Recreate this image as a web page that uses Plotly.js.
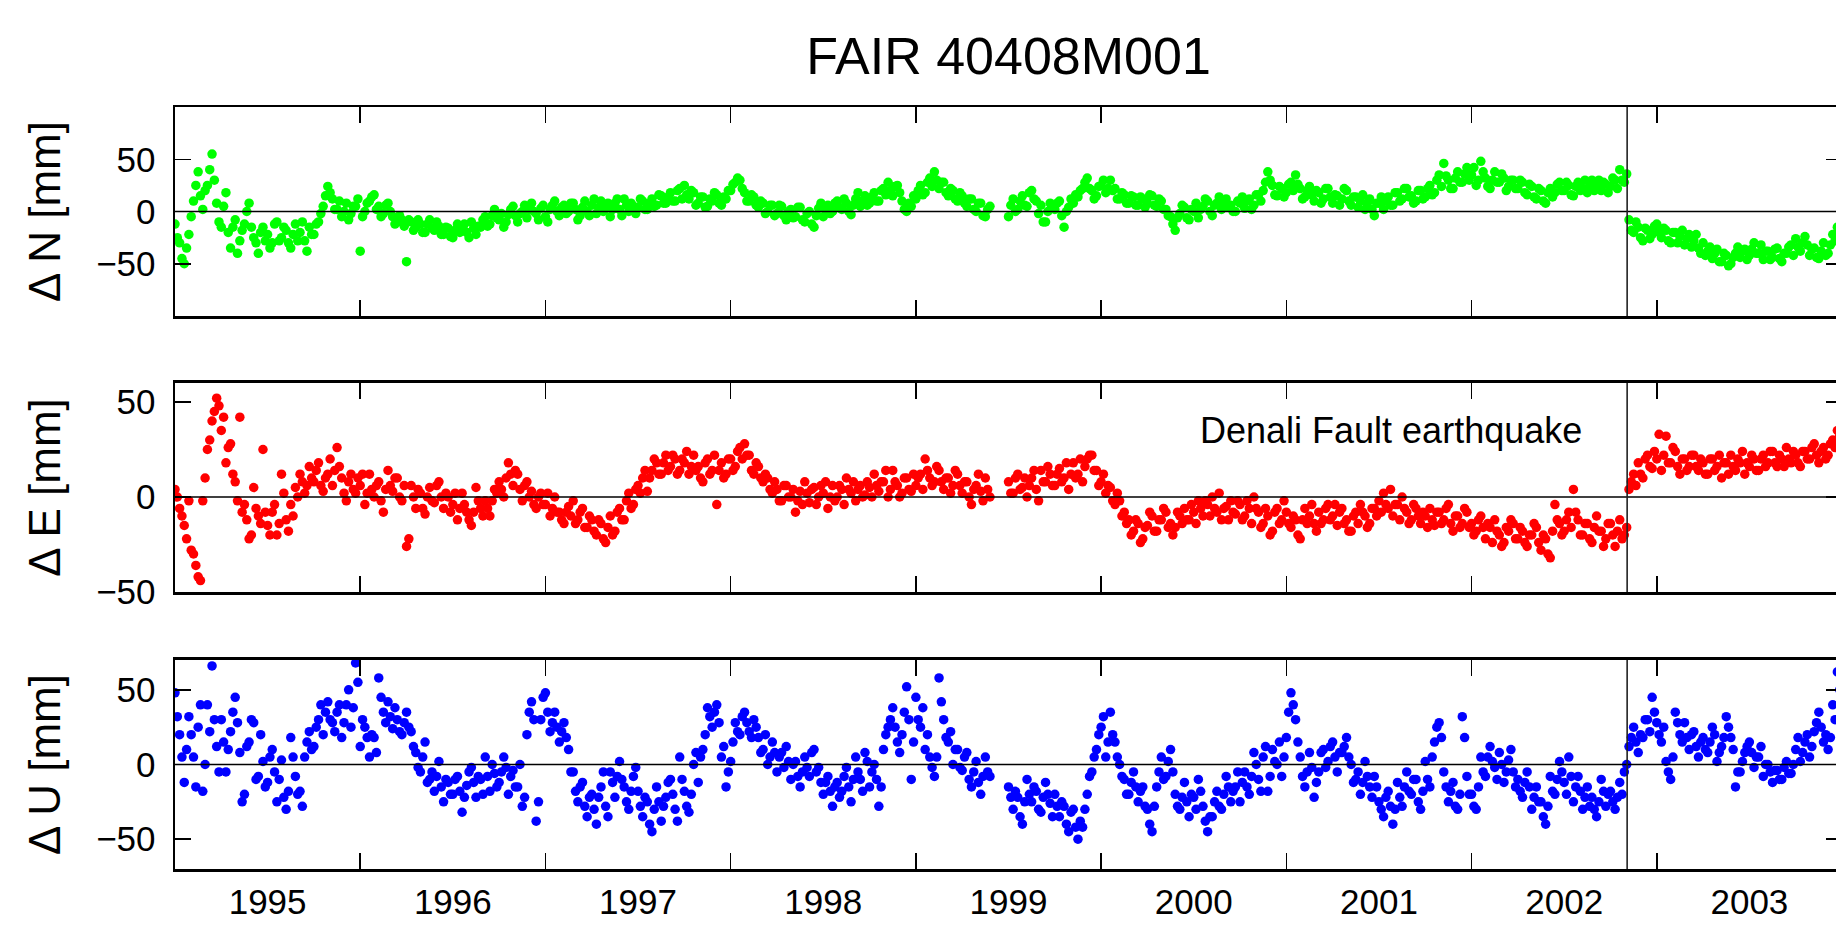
<!DOCTYPE html>
<html>
<head>
<meta charset="utf-8">
<script src="https://cdn.plot.ly/plotly-3.0.1.min.js"></script>
<style>
html, body { margin: 0; padding: 0; overflow: hidden; background: #fff; }
#chart { width: 1900px; height: 927px; }
</style>
</head>
<body>
<div id="chart"></div>
<script>
// Sampling grid of the series (decimal years)
const startYear = 1995.0;
const stepYear = 0.0125;

// Station and event
const stationTitle = 'FAIR 40408M001';
const eventYear = 2002.84;
const eventLabel = 'Denali Fault earthquake';

// Year labels (placed mid-year); ticks sit on year boundaries
const yearLabels = ['1995','1996','1997','1998','1999','2000','2001','2002','2003'];

// North component [mm]
const N_mm = [
 -12,-25,-30,-45,-50,-35,-22,-5,10,25,38,15,2,20,25,40,55,30,8,-10,
 -15,5,18,-20,-35,-15,-8,-40,-28,-18,-12,0,8,-15,-25,-30,-40,-20,-15,-28,
 -22,-35,-30,-12,-10,-28,-25,-15,-18,-30,-35,-22,-12,-28,-20,-10,-28,-38,-15,-22,
 -22,-12,-10,-2,5,15,24,18,12,2,2,10,-5,0,8,-8,-2,5,5,12,
 -38,-5,0,8,10,14,16,2,5,-5,-2,6,8,0,-5,-12,-10,-4,-8,-14,
 -48,-8,-10,-18,-15,-8,-12,-20,-20,-12,-8,-16,-18,-10,-14,-22,-22,-15,-16,-24,
 -25,-18,-12,-20,-18,-12,-20,-25,-10,-16,-22,-14,-15,-8,-5,-14,-12,-4,2,-6,
 -8,-2,-15,-10,-3,2,5,-4,-10,-2,0,6,-6,2,8,0,-2,-8,3,6,
 -5,-10,2,6,10,0,-4,4,6,-2,0,8,8,2,-8,-4,4,10,0,-4,
 6,12,-2,4,10,0,3,8,-5,2,8,12,2,-4,12,6,0,8,5,-2,
 4,12,10,2,2,8,12,5,6,16,15,8,8,14,18,10,10,20,22,12,
 25,16,12,20,18,6,8,14,14,4,5,12,10,18,16,8,6,14,12,20,
 20,26,28,32,30,22,18,10,10,16,14,6,4,10,8,-2,0,6,6,-4,
 -2,6,5,-4,-8,0,2,-6,-5,4,4,-8,-10,-2,0,-12,-15,-4,3,8,
 -5,2,6,-2,0,8,10,4,2,12,8,0,-3,6,12,18,5,10,15,6,
 8,14,18,10,10,20,22,16,28,20,15,24,25,18,10,2,0,8,5,15,
 12,20,25,16,18,28,32,24,38,30,22,28,28,18,15,22,20,12,10,18,
 15,8,5,12,12,2,0,8,8,-4,-5,2,5,null,null,null,null,null,null,null,
 -5,6,12,0,2,10,15,6,5,18,20,12,10,-2,6,-10,-10,0,8,4,
 2,8,10,-4,-15,0,4,12,8,16,14,20,22,28,32,22,20,12,15,24,
 25,30,18,22,30,20,22,12,12,18,16,8,8,15,14,6,6,14,12,4,
 8,16,15,6,5,12,10,2,2,-4,-5,-12,-18,-6,-2,6,4,-6,-8,2,
 0,8,-6,2,5,12,10,0,-4,6,8,14,2,8,12,4,6,0,0,10,
 8,14,3,10,12,2,6,16,16,10,20,28,38,30,25,16,15,24,22,14,
 18,26,28,20,35,26,22,12,14,20,24,16,10,20,18,8,12,22,22,14,
 8,16,15,6,12,22,20,10,6,14,14,4,10,16,2,8,12,2,-4,8,
 8,14,2,10,14,6,6,18,18,10,12,22,22,14,15,8,10,20,20,12,
 14,22,25,16,18,30,35,24,46,34,30,22,22,32,38,28,28,36,42,30,
 35,42,25,30,48,38,32,24,22,30,38,28,28,36,32,20,24,30,30,22,
 22,30,28,18,16,26,24,14,12,22,20,10,8,18,22,14,18,26,28,20,
 20,28,25,16,15,24,28,20,22,30,18,24,30,20,24,30,20,28,26,18,
 24,32,30,22,40,30,28,36,-8,-18,-20,-10,-15,-25,-28,-16,-18,-26,-22,-14,
 -12,-20,-25,-16,-18,-28,-30,-20,-20,-30,-24,-18,-32,-26,-22,-34,-28,-22,-35,-40,
 -30,-42,-38,-34,-45,-40,-36,-48,-48,-40,-42,-52,-50,-44,-40,-34,-44,-38,-36,-46,
 -42,-36,-30,-40,-40,-32,-46,-38,-38,-46,-44,-36,-35,-45,-48,-40,-40,-34,-32,-42,
 -26,-34,-38,-30,-24,-32,-42,-36,-35,-44,-45,-38,-30,-42,-40,-32,-22,-28,-15,-20
];

// East component [mm]
const E_mm = [
 4,0,-6,-10,-15,-22,-2,-28,-30,-36,-42,-44,-2,10,25,30,40,45,52,48,
 35,42,18,26,28,12,8,-2,42,-8,-4,-12,-22,-20,5,-6,-10,-14,25,-8,
 -15,-20,-8,-4,-20,-14,12,2,-12,-18,-4,-10,5,0,12,8,2,6,16,10,
 8,14,18,6,3,10,12,20,6,14,26,16,10,2,-2,8,12,4,2,10,
 6,12,-4,2,12,4,0,6,8,-2,-8,4,14,6,3,10,10,0,-2,6,
 -26,-22,6,0,-6,4,2,-6,-9,0,5,-2,-3,6,8,0,-6,2,0,-8,
 -4,2,-12,-6,2,-4,-8,-12,-15,-8,5,-2,-6,-10,-2,-6,-10,-2,4,2,
 8,4,0,10,18,12,6,14,12,4,-2,6,8,0,3,-4,-6,0,2,-4,
 -4,2,-10,-6,0,-8,-8,-12,-14,-8,-5,-10,-2,-14,-12,-8,-6,-16,-16,-10,
 -12,-18,-20,-12,-14,-22,-24,-16,-10,-20,-18,-8,-6,-12,-12,-2,2,-6,-4,4,
 6,2,10,14,3,10,14,20,18,12,12,18,22,14,16,22,20,12,14,20,
 18,24,12,16,22,14,16,10,8,18,20,12,14,22,-4,14,18,10,12,20,
 20,14,16,24,26,20,28,22,22,14,12,18,16,10,8,12,10,4,2,8,
 4,-2,-2,6,6,0,0,4,-8,-2,3,-4,8,2,-3,4,5,-4,0,6,
 2,8,-6,0,6,-2,0,6,4,-4,10,4,2,8,-2,4,6,0,1,8,
 5,0,12,6,3,8,8,14,0,4,14,8,6,0,2,10,10,4,3,12,
 6,10,12,4,20,14,10,6,8,16,14,8,4,10,10,2,6,14,12,6,
 2,8,8,0,-4,4,6,12,3,-2,10,4,0,null,null,null,null,null,null,null,
 8,2,2,10,12,4,5,10,0,6,10,14,4,-2,14,8,8,16,12,6,
 6,12,15,8,10,18,4,12,18,10,12,20,8,16,20,22,22,14,14,6,
 8,12,2,6,5,-2,-4,2,-2,-10,-8,-14,-12,-20,-18,-12,-14,-24,-22,-16,
 -15,-8,-10,-18,-18,-12,-12,-6,-8,-16,-14,-20,-16,-8,-10,-14,-6,-12,-12,-4,
 -8,-14,-2,-6,-10,-2,-4,-10,0,-6,-8,2,-12,-6,-5,-12,-2,-8,-9,-2,
 -4,-12,-10,-2,-6,-14,0,-6,-8,-16,-14,-6,-10,-20,-18,-8,-6,-14,-12,-2,
 -8,-14,-16,-10,-12,-20,-22,-12,-6,-14,-10,-4,-14,-18,-8,-14,-12,-6,-4,-12,
 -10,-4,-15,-8,-6,-14,-12,-18,-18,-10,-8,-14,-4,-8,-10,-16,-14,-6,-6,-10,
 -2,-8,2,-4,-6,4,-10,-4,-4,-12,0,-6,-8,-14,-12,-4,-6,-10,-14,-8,
 -10,-16,-6,-12,-15,-8,-8,-14,-12,-6,-4,-14,-18,-10,-10,-16,-14,-6,-8,-16,
 -14,-20,-18,-12,-10,-16,-22,-14,-16,-24,-12,-18,-20,-26,-24,-16,-18,-12,-14,-22,
 -22,-16,-18,-24,-26,-20,-20,-14,-16,-24,-28,-20,-22,-30,-32,-18,-4,-12,-14,-20,
 -18,-12,-8,-16,4,-8,-12,-20,-20,-14,-14,-22,-24,-16,-10,-18,-18,-26,-22,-14,
 -14,-20,-26,-18,-12,-22,-20,-16,4,8,12,6,18,12,10,20,22,16,15,24,
 20,33,14,22,32,18,18,26,24,16,12,20,20,14,16,22,22,16,14,20,
 18,12,12,20,20,14,16,22,10,18,18,12,22,16,14,20,18,24,12,18,
 16,22,20,14,14,20,22,16,18,24,24,18,16,22,20,16,26,20,18,24,
 22,18,16,24,24,20,20,26,28,22,18,24,26,20,22,28,30,26,35,32
];

// Up component [mm]
const U_mm = [
 48,32,20,5,-12,10,32,20,5,-15,25,40,-18,0,40,22,66,30,12,-5,
 30,15,-5,10,22,35,45,28,8,-25,-20,12,15,30,28,-10,-8,20,2,-15,
 -12,5,10,-5,-25,-10,3,-22,-30,-18,18,5,-8,-20,-18,-28,5,15,22,10,
 12,25,30,40,20,35,42,30,28,22,35,40,18,28,40,50,25,38,68,55,
 12,30,25,18,5,20,18,8,58,45,35,28,42,32,24,38,30,22,20,28,
 35,25,22,12,8,-2,-5,5,15,-12,-10,-5,-18,-8,2,-15,-25,-10,-12,-20,
 -20,-10,-8,-18,-32,-22,-14,-5,-2,-12,-22,-8,-10,-20,5,-8,-18,0,-6,-15,
 -12,-5,5,-2,-20,-8,-4,-15,-15,0,-28,-22,20,35,42,30,-38,-25,30,45,
 48,35,22,28,35,25,15,22,28,18,10,-5,-5,-18,-25,-15,-12,-28,-35,-22,
 -20,-30,-40,-22,-15,-5,-28,-35,-5,-12,-22,-8,2,-10,-15,-25,-30,-18,-8,-2,
 -18,-28,-35,-22,-25,-40,-45,-30,-15,-25,-38,-28,-22,-12,-10,-20,-30,-38,5,-10,
 -18,-28,-32,-20,0,8,-12,5,10,20,38,32,25,35,40,28,5,12,-15,-5,
 2,15,28,22,20,32,35,28,22,18,30,25,18,8,10,20,0,5,15,8,
 -5,5,8,-2,12,2,-10,0,2,-8,-15,-5,5,-2,-8,8,10,-5,-2,-12,
 -20,-12,-8,-18,-28,-15,-12,-22,-18,-8,-2,-15,-25,-10,5,-5,-10,-18,8,2,
 -15,-5,0,-10,-28,-15,10,20,25,30,38,25,15,8,20,35,52,30,-10,15,
 45,30,25,38,10,20,5,-2,-8,5,58,42,30,18,15,22,0,10,10,-2,
 -4,5,8,-10,-15,-5,2,-12,-20,-8,5,-5,-8,null,null,null,null,null,null,null,
 -15,-22,-30,-18,-22,-35,-40,-25,-10,-20,-25,-15,-18,-30,-32,-22,-12,-20,-26,-35,
 -20,-28,-35,-25,-28,-40,-45,-32,-30,-42,-50,-38,-42,-30,-20,-8,-5,5,10,20,
 25,32,5,15,35,20,15,5,0,-8,-10,-20,-20,-12,-5,-15,-25,-18,-15,-28,
 -30,-40,-45,-28,-15,-5,5,-10,-8,2,10,-5,-20,-28,-30,-22,-12,-25,-35,-20,
 -22,-30,-10,-18,-28,-38,-45,-35,-35,-25,-18,-28,-30,-20,-8,-15,-25,-18,-15,-5,
 -25,-12,-5,-15,-20,-8,8,0,-10,-18,5,12,-18,-8,10,2,0,15,-8,5,
 18,35,48,40,30,15,5,-8,-15,-5,8,-2,-22,-12,-5,8,10,-2,2,12,
 15,5,-5,8,8,12,18,5,0,-12,-10,-5,-20,-12,2,-8,-15,-22,-8,-15,
 -25,-30,-35,-22,-18,-28,-40,-30,-12,-22,-28,-15,-5,-18,-20,-10,-10,-25,-30,-18,
 2,-10,-15,5,15,25,28,18,-5,-15,-25,-18,-12,-28,-30,-20,32,18,-8,-20,
 -20,-28,-30,-15,5,-5,-8,5,12,2,-2,-10,8,0,-12,-5,3,10,-5,-15,
 -10,-18,-22,-12,-5,-15,-30,-22,-15,-25,-25,-35,-40,-28,-8,-18,-20,-10,2,-5,
 -12,-20,5,-8,-25,-15,-8,-18,-30,-22,-15,-28,-22,-30,-35,-25,-10,-18,-28,-20,
 -18,-25,-30,-22,-12,-20,-5,0,12,18,25,15,8,20,18,30,30,22,45,35,
 28,20,15,25,2,-5,-10,5,35,28,20,15,28,18,10,20,22,12,5,15,
 18,10,8,15,25,20,2,8,12,18,32,25,18,10,-15,-5,-5,2,8,12,
 15,8,-2,5,5,12,-8,0,0,-5,-12,-4,-4,-10,-10,-2,2,-6,-6,0,
 10,18,2,8,15,20,5,12,22,28,35,25,15,20,10,18,40,30,62,50
];

const epochOf = arr => arr.map((_, i) => startYear + i * stepYear);
const labelPos = yearLabels.map(y => Number(y) + 0.5);

const FONT = 'Liberation Sans, Arial, Helvetica, sans-serif';

function mk(y, color, xa, ya) {
  return { x: epochOf(y), y: y, xaxis: xa, yaxis: ya, type: 'scatter', mode: 'markers',
    marker: { color: color, size: 9.5, line: { width: 0 } }, showlegend: false, hoverinfo: 'x+y' };
}

const traces = [
  mk(N_mm, '#00ff00', 'x', 'y'),
  mk(E_mm, '#ff0000', 'x2', 'y2'),
  mk(U_mm, '#0000ff', 'x3', 'y3')
];

function xa(anchor, labels) {
  return {
    anchor: anchor, range: [1995.0, 2004.0], showgrid: false, zeroline: false,
    showline: true, linecolor: 'black', linewidth: 2.5, mirror: 'ticks',
    tickmode: 'array', tickvals: labelPos, ticktext: yearLabels,
    ticks: 'inside', ticklen: 0, showticklabels: labels,
    ticklabelstandoff: 0,
    tickfont: { family: FONT, size: 35, color: 'black' },
    minor: { tickmode: 'linear', tick0: 1995, dtick: 1, ticks: 'inside', ticklen: 16,
             tickwidth: 1.5, tickcolor: 'black', showgrid: false }
  };
}
function ya(anchor, domain, range, title) {
  return {
    anchor: anchor, domain: domain, range: range, showgrid: false, zeroline: false,
    showline: true, linecolor: 'black', linewidth: 2.5, mirror: 'ticks',
    tickmode: 'array', tickvals: [-50, 0, 50], ticktext: ['\u221250', '0', '50'],
    ticks: 'inside', ticklen: 16, tickwidth: 1.5, tickcolor: 'black',
    ticklabelstandoff: 10,
    tickfont: { family: FONT, size: 35, color: 'black' },
    title: { text: title, font: { family: FONT, size: 44, color: 'black' }, standoff: 22 }
  };
}

const layout = {
  width: 1900, height: 927,
  margin: { l: 175, r: 58, t: 107, b: 58 },
  paper_bgcolor: 'white', plot_bgcolor: 'white',
  font: { family: FONT, color: 'black' },
  title: { text: stationTitle, font: { family: FONT, size: 52, color: 'black' },
           x: 0.5, xref: 'paper', xanchor: 'center', y: 1 - 56 / 927, yref: 'container', yanchor: 'middle' },
  xaxis: xa('y', false),
  xaxis2: xa('y2', false),
  xaxis3: xa('y3', true),
  yaxis: ya('x', [0.7257, 1.0], [-100, 100], '\u0394 N [mm]'),
  yaxis2: ya('x2', [0.3635, 0.6378], [-50, 60], '\u0394 E [mm]'),
  yaxis3: ya('x3', [0.0, 0.2743], [-70, 70], '\u0394 U [mm]'),
  shapes: [
    { type: 'line', xref: 'x domain', yref: 'y', x0: 0, x1: 1, y0: 0, y1: 0, layer: 'above', line: { color: 'black', width: 1.6 } },
    { type: 'line', xref: 'x2 domain', yref: 'y2', x0: 0, x1: 1, y0: 0, y1: 0, layer: 'above', line: { color: 'black', width: 1.6 } },
    { type: 'line', xref: 'x3 domain', yref: 'y3', x0: 0, x1: 1, y0: 0, y1: 0, layer: 'above', line: { color: 'black', width: 1.6 } },
    { type: 'line', xref: 'x', yref: 'y domain', x0: eventYear, x1: eventYear, y0: 0, y1: 1, layer: 'above', line: { color: '#222', width: 1.6 } },
    { type: 'line', xref: 'x2', yref: 'y2 domain', x0: eventYear, x1: eventYear, y0: 0, y1: 1, layer: 'above', line: { color: '#222', width: 1.6 } },
    { type: 'line', xref: 'x3', yref: 'y3 domain', x0: eventYear, x1: eventYear, y0: 0, y1: 1, layer: 'above', line: { color: '#222', width: 1.6 } }
  ],
  annotations: [
    { text: eventLabel, xref: 'paper', yref: 'paper', x: (1584 - 175) / 1667, y: (869 - 430) / 762,
      xanchor: 'right', yanchor: 'middle', showarrow: false,
      font: { family: FONT, size: 36, color: 'black' } }
  ]
};

Plotly.newPlot('chart', traces, layout, { displayModeBar: false, staticPlot: true });
</script>
</body>
</html>
